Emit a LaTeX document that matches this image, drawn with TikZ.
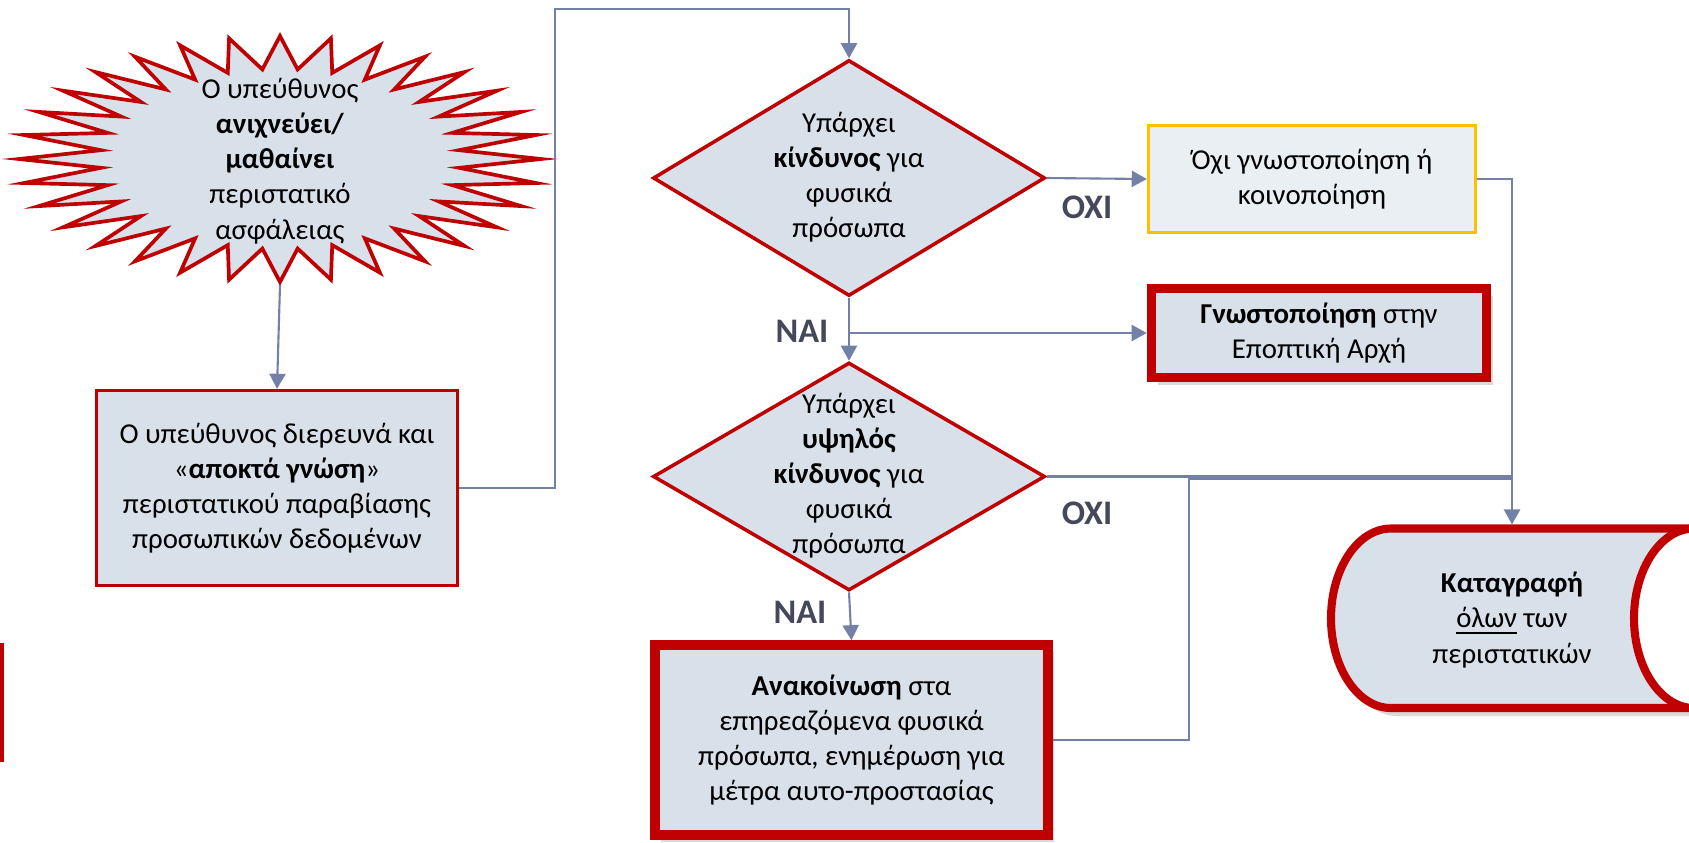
\documentclass[tikz,border=0pt]{standalone}
\usepackage{fontspec}
\setmainfont{Carlito}
\usepackage{xcolor}
\usepackage{tikz}
\usetikzlibrary{arrows.meta,shapes.geometric,shadows}

\definecolor{riskred}{HTML}{C00000}
\definecolor{warnyel}{HTML}{FFC000}
\definecolor{boxfill}{HTML}{D8E1EA}
\definecolor{lightfill}{HTML}{EAEFF4}
\definecolor{linkc}{HTML}{7381A8}
\definecolor{labgray}{HTML}{45475A}

\newcommand{\boxfont}{\fontsize{8.2}{10}\selectfont}
\newcommand{\labfont}{\fontsize{9.8}{11}\selectfont\bfseries}
\newcommand{\stacktext}[1]{\smash{\makebox[0pt]{\raisebox{-2pt}{\begin{tabular}{@{}c@{}}#1\end{tabular}}}}}

\tikzset{
  flow/.style={draw=linkc, line width=0.6pt, -{Triangle[length=4.3pt,width=4.6pt]}},
  link/.style={draw=linkc, line width=0.6pt},
  plain/.style={align=center, font=\boxfont, inner sep=0pt},
  redbox/.style={rectangle, draw=riskred, line width=0.95pt, fill=boxfill, align=center, font=\boxfont},
  bigbox/.style={redbox, line width=2.7pt, drop shadow={shadow xshift=0.6mm, shadow yshift=-0.7mm, opacity=0.3}},
  nobox/.style={rectangle, draw=warnyel, line width=0.95pt, fill=lightfill, align=center, font=\boxfont},
  decision/.style={diamond, draw=riskred, line width=1pt, fill=boxfill, inner sep=0pt, font=\boxfont},
  burst/.style={draw=riskred, fill=boxfill, line width=1.05pt},
  answer/.style={font=\labfont, text=labgray},
}

\begin{document}
\begin{tikzpicture}[x=1cm,y=1cm]
  \useasboundingbox (0,0) rectangle (16.89,-8.42);

  % starburst
  \begin{scope}[shift={(2.80,-1.59)}]
    \filldraw[burst] (0:2.61 and 1.23)
      \foreach \k in {0,...,31}{ -- ({\k*11.25+5.625}:1.80 and 0.90) -- ({(\k+1)*11.25}:2.61 and 1.23)} -- cycle;
  \end{scope}
  \coordinate (burstbot) at (2.80,-2.85);
  \node[plain] (burst) at (2.80,-1.61) {Ο υπεύθυνος\\\textbf{ανιχνεύει/}\\\textbf{μαθαίνει}\\περιστατικό\\ασφάλειας};

  \node[redbox, minimum width=3.61cm, minimum height=1.95cm] (detect) at (2.77,-4.88)
    {Ο υπεύθυνος διερευνά και\\«\textbf{αποκτά γνώση}»\\περιστατικού παραβίασης\\προσωπικών δεδομένων};

  % decisions
  \node[decision, minimum width=3.92cm, minimum height=2.36cm] (dia1) at (8.49,-1.78)
    {\stacktext{Υπάρχει\\\textbf{κίνδυνος} για\\φυσικά\\πρόσωπα}};
  \node[decision, minimum width=3.92cm, minimum height=2.28cm] (dia2) at (8.49,-4.765)
    {\stacktext{Υπάρχει\\\textbf{υψηλός}\\\textbf{κίνδυνος} για\\φυσικά\\πρόσωπα}};

  \node[nobox, minimum width=3.27cm, minimum height=1.07cm] (nonotif) at (13.12,-1.79)
    {Όχι γνωστοποίηση ή\\κοινοποίηση};
  \node[bigbox, minimum width=3.35cm, minimum height=0.89cm] (notif) at (13.19,-3.33)
    {\textbf{Γνωστοποίηση} στην\\Εποπτική Αρχή};
  \node[bigbox, minimum width=3.93cm, minimum height=1.90cm] (inform) at (8.515,-7.40)
    {\textbf{Ανακοίνωση} στα\\επηρεαζόμενα φυσικά\\πρόσωπα, ενημέρωση για\\μέτρα αυτο-προστασίας};

  % record store
  \begin{scope}
    \clip (0,0) rectangle (16.89,-8.42);
    \fill[boxfill, drop shadow={shadow xshift=0.6mm, shadow yshift=-0.8mm, opacity=0.3}]
      (16.94,-5.285) -- (13.91,-5.285) arc[start angle=90, end angle=270, x radius=0.60, y radius=0.8975]
      -- (16.94,-7.08) -- cycle;
    \draw[riskred, line width=2.3pt] (16.94,-5.285) -- (13.91,-5.285)
      arc[start angle=90, end angle=270, x radius=0.60, y radius=0.8975] -- (16.94,-7.08);
    \filldraw[draw=riskred, fill=white, line width=2.3pt] (16.94,-6.1825) ellipse[x radius=0.60, y radius=0.8975];
  \end{scope}
  \coordinate (recordtop) at (15.12,-5.245);
  \coordinate (merge) at (15.12,-4.79);
  \node[plain] (record) at (15.12,-6.20) {\textbf{Καταγραφή}\\\underline{όλων} των\\περιστατικών};

  % left edge mark
  \draw[riskred, line width=1pt] (0.02,-6.43) -- (0.02,-7.62);

  % answers
  \node[answer] (yes1) at (8.02,-3.31) {ΝΑΙ};
  \node[answer] (no1) at (10.87,-2.07) {ΟΧΙ};
  \node[answer] (no2) at (10.87,-5.13) {ΟΧΙ};
  \node[answer] (yes2) at (8.00,-6.12) {ΝΑΙ};

  % connectors
  \draw[flow] (burstbot) -- (detect.north);
  \draw[flow] (detect.east) -| (5.55,-0.09) -| (dia1.north);
  \draw[flow] (dia1.east) -- (nonotif.west);
  \draw[flow] (dia1.south) -- (dia2.north);
  \draw[flow] (dia1.south |- notif.west) -- (notif.west);
  \draw[flow] (nonotif.east) -| (recordtop);
  \draw[link] (dia2.east) -- (dia2.east -| recordtop);
  \draw[link] (inform.east) -| (11.89,-4.79) -- (merge);
  \draw[flow] (dia2.south) -- (inform.north);
\end{tikzpicture}
\end{document}
